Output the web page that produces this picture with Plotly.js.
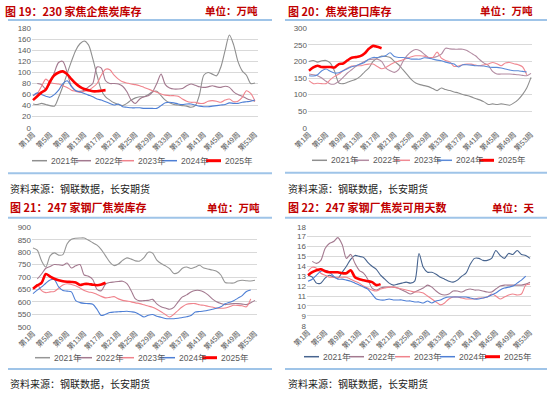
<!DOCTYPE html>
<html><head><meta charset="utf-8">
<script src="https://cdn.plot.ly/plotly-3.0.1.min.js"></script>
<style>html,body{margin:0;padding:0;background:#fff}#chart{width:550px;height:393px}</style>
</head><body><div id="chart"></div>
<script>
// ---------- DATA ----------
const weeks = [1,2,3,4,5,6,7,8,9,10,11,12,13,14,15,16,17,18,19,20,21,22,23,24,25,26,27,28,29,30,31,32,33,34,35,36,37,38,39,40,41,42,43,44,45,46,47,48,49,50,51,52,53];
const tickWeeks = [1,5,9,13,17,21,25,29,33,37,41,45,49,53];
const tickLabels = ['第1周','第5周','第9周','第13周','第17周','第21周','第25周','第29周','第33周','第37周','第41周','第45周','第49周','第53周'];
const years = ['2021年','2022年','2023年','2024年','2025年'];

const titles = ['图 19：230 家焦企焦炭库存','图 20：焦炭港口库存','图 21：247 家钢厂焦炭库存','图 22：247 家钢厂焦炭可用天数'];
const units = ['单位：万吨','单位：万吨','单位：万吨','单位：天'];
const sourceText = '资料来源：钢联数据，长安期货';

// 图19 230家焦企焦炭库存（万吨）
const p1_2021 = [43,42,44,42,40,39,55,75,98,120,140,152,157,150,125,95,68,56,50,45,42,40,44,50,54,56,56,60,65,66,58,50,45,42,41,40,39,37,40,60,95,100,97,94,110,140,168,150,120,103,95,80,81];
const p1_2022 = [null,80,78,70,80,100,118,120,100,75,67,66,68,74,80,110,108,85,80,80,79,75,65,50,44,52,56,58,65,80,97,78,72,70,70,71,76,79,77,74,73,74,76,74,73,75,73,65,60,57,53,50,48];
const p1_2023 = [58,62,75,88,82,80,79,76,73,68,66,64,66,68,73,80,95,106,105,95,88,83,81,79,78,76,73,70,67,64,61,59,58,58,57,52,48,46,46,44,44,48,49,48,46,50,52,47,48,55,67,62,48];
const p1_2024 = [58,63,60,57,55,60,68,80,85,75,67,65,62,59,56,52,50,47,44,41,43,38,37,36,36,36,35,35,35,35,40,45,46,45,43,42,43,43,41,39,38,38,39,40,41,42,45,44,44,46,47,48,50];
const p1_2025 = [50,57,64,69,84,95,100,102,97,88,80,74,70,68,66,66,67,68];

// 图20 焦炭港口库存（万吨）
const p2_2021 = [200,203,198,202,203,195,170,135,133,137,142,146,155,168,180,200,210,216,215,212,200,190,175,160,145,135,130,127,124,118,112,120,115,112,108,105,100,97,93,88,84,78,70,72,70,72,70,68,75,85,100,120,152];
const p2_2022 = [162,160,157,150,140,132,132,140,152,165,175,185,192,200,205,207,207,200,180,172,167,175,200,218,230,236,232,222,212,212,215,222,240,238,237,237,237,233,225,217,205,195,188,170,162,162,162,162,161,160,158,157,164];
const p2_2023 = [142,133,134,133,133,145,155,162,172,180,186,187,187,190,192,192,185,178,182,190,197,201,205,210,214,217,217,216,212,212,228,210,203,198,185,186,190,192,192,189,187,190,192,197,193,187,195,197,193,190,184,160,null];
const p2_2024 = [157,156,160,172,177,170,165,166,172,178,184,187,192,197,207,212,212,214,218,226,215,212,212,210,207,207,207,211,210,207,204,202,198,195,192,183,190,190,189,187,187,186,183,182,182,180,177,174,172,172,170,168,null];
const p2_2025 = [172,182,187,183,183,183,182,192,194,203,211,213,216,224,238,247,244,240];

// 图21 247家钢厂焦炭库存（万吨）
const p3_2021 = [817,808,765,740,785,797,788,790,834,852,856,857,857,848,838,828,810,785,760,746,752,767,777,772,765,764,778,800,796,768,754,745,734,714,718,735,740,734,740,747,736,732,728,723,708,678,676,676,684,687,685,684,687];
const p3_2022 = [null,692,712,735,742,750,749,747,756,736,745,750,708,703,690,650,645,672,678,680,682,683,673,645,612,604,605,606,610,592,580,575,570,578,600,620,628,640,646,646,640,628,612,600,593,589,591,593,593,591,589,596,606];
const p3_2023 = [650,670,645,637,640,642,655,668,673,670,665,656,646,640,637,630,622,616,618,621,612,606,603,600,596,593,588,583,578,570,560,549,539,550,566,580,590,593,593,588,586,582,579,575,574,575,580,586,586,584,580,612,null];
const p3_2024 = [633,647,660,675,688,690,660,646,643,640,605,597,594,593,590,570,545,550,557,559,560,561,562,560,557,548,539,546,549,542,538,533,532,532,534,537,540,545,559,561,563,566,570,574,580,592,598,604,615,625,642,648,null];
const p3_2025 = [653,666,676,712,702,693,687,683,681,680,678,668,672,672,669,667,670,677];

// 图22 247家钢厂焦炭可用天数（天）
const p4_2021 = [13.1,12.9,12.3,12.3,12.8,13.1,12.9,12.8,13.4,14.0,14.7,15.1,15.0,14.9,14.4,14.0,13.7,13.1,12.7,12.3,12.1,12.2,12.3,12.4,12.3,12.5,15.3,13.9,13.4,13.4,13.2,12.9,12.7,12.5,12.4,12.6,13.0,13.3,14.2,14.8,14.8,14.6,14.6,14.8,15.6,15.1,14.8,15.3,15.2,15.6,15.2,15.1,14.8];
const p4_2022 = [null,14.5,14.3,14.6,15.8,16.3,16.5,16.9,16.2,14.8,15.2,14.3,13.6,13.3,12.7,11.8,11.6,11.8,11.9,11.9,11.9,11.8,11.6,11.4,11.2,11.4,11.6,11.8,12.1,11.9,11.5,11.2,11.1,11.2,11.5,11.5,11.4,11.6,11.7,11.6,11.6,11.5,11.4,11.4,11.7,12.0,12.1,12.1,12.1,12.1,12.1,12.2,12.4];
const p4_2023 = [13.5,13.9,13.8,13.3,13.1,12.9,12.9,12.9,12.9,12.9,12.7,12.5,12.3,12.0,11.8,11.6,11.5,11.7,11.8,11.9,11.9,11.8,11.7,11.6,11.5,11.4,11.4,11.3,11.0,10.7,10.4,10.1,10.3,10.7,10.9,10.9,10.8,10.7,10.7,10.7,10.8,10.8,10.9,11.2,11.0,10.7,10.9,11.1,11.2,11.1,11.2,12.1,12.2];
const p4_2024 = [12.5,12.7,13.1,13.5,13.6,13.4,13.0,12.7,12.7,12.6,12.5,12.3,12.1,11.9,11.7,11.2,10.7,10.6,10.6,10.7,10.6,10.6,10.6,10.5,10.5,10.4,10.4,10.3,10.5,10.3,10.5,10.6,10.8,10.9,10.9,10.9,10.9,10.9,10.8,10.7,10.7,10.8,10.9,11.1,11.3,11.6,11.8,11.9,12.0,12.3,12.6,13.0,null];
const p4_2025 = [13.1,13.4,13.6,13.7,13.5,13.4,13.4,13.4,13.3,13.3,13.6,12.9,12.7,12.6,12.5,12.4,12.1,12.2];

// ---------- STYLE / LAYOUT ----------
const W = 550, H = 393;
const PX = p => p / W, PY = p => 1 - p / H;
const FONT = 'Liberation Sans, Noto Sans CJK SC, sans-serif';
const CJK = 'Noto Sans CJK SC, sans-serif';

const panels = [
  {series:[p1_2021,p1_2022,p1_2023,p1_2024,p1_2025], colors:['#8f8f8f','#a3798f','#f0838c','#4e7fd5','#ff0000'],
   left:32, right:258, w1:33, w53:255, top:28.3, bottom:127.7, yr:[0,180], dtick:20,
   tx:3, ty:11, ux:260, legY:160.7, legX:[50,94,137,180,224], sepTop:[8,272,20], sepBot:[8,272,173.3], srcX:8, srcY:188.3},
  {series:[p2_2021,p2_2022,p2_2023,p2_2024,p2_2025], colors:['#8f8f8f','#b38ca2','#f08a93','#5b8ad8','#ff0000'],
   left:308, right:532, w1:309, w53:531, top:28.3, bottom:127.7, yr:[0,300], dtick:50,
   tx:286, ty:11, ux:535, legY:160.3, legX:[330,372,413,455,497], sepTop:[285,547,20], sepBot:[285,547,172.7], srcX:286, srcY:188.3},
  {series:[p3_2021,p3_2022,p3_2023,p3_2024,p3_2025], colors:['#969696','#a3798f','#f0838c','#4e7fd5','#ff0000'],
   left:32, right:257, w1:33, w53:255, top:227.3, bottom:326.7, yr:[500,900], dtick:50,
   tx:8, ty:207.3, ux:262, legY:357.7, legX:[53,95,137,178,220], sepTop:[8,272,217.7], sepBot:[8,272,369], srcX:8, srcY:383.3},
  {series:[p4_2021,p4_2022,p4_2023,p4_2024,p4_2025], colors:['#47648f','#a3798f','#f0838c','#4e7fd5','#ff0000'],
   left:307, right:531, w1:308, w53:530, top:226.7, bottom:325.7, yr:[8,18], dtick:1,
   tx:286, ty:207.3, ux:537, legY:356.7, legX:[322,367,413,458,503], sepTop:[285,547,217.7], sepBot:[285,547,369], srcX:286, srcY:383.3}
];

const traces = [];
const layout = {
  width: W, height: H, margin:{l:0,r:0,t:0,b:0},
  paper_bgcolor:'#ffffff', plot_bgcolor:'rgba(0,0,0,0)',
  showlegend:false, font:{family:FONT, color:'#595959'},
  annotations:[], shapes:[]
};

panels.forEach((p, i) => {
  const n = i === 0 ? '' : String(i + 1);
  const ppw = (p.w53 - p.w1) / 52;
  layout['xaxis' + n] = {
    domain:[PX(p.left), PX(p.right)], anchor:'y' + n,
    range:[1 - (p.w1 - p.left) / ppw, 53 + (p.right - p.w53) / ppw],
    tickmode:'array', tickvals:tickWeeks, ticktext:tickLabels, tickangle:-45,
    tickfont:{size:7.5, color:'#595959', family:FONT},
    showgrid:false, zeroline:false, showline:false, ticks:'', fixedrange:true
  };
  layout['yaxis' + n] = {
    domain:[PY(p.bottom), PY(p.top)], anchor:'x' + n,
    range:p.yr, tick0:p.yr[0], dtick:p.dtick,
    tickfont:{size:8, color:'#595959', family:FONT},
    gridcolor:'#d9d9d9', gridwidth:1, zeroline:false, showline:false, ticks:'', fixedrange:true
  };
  p.series.forEach((ys, k) => {
    traces.push({
      x: weeks.slice(0, ys.length), y: ys, name: years[k],
      xaxis:'x' + n, yaxis:'y' + n, type:'scatter', mode:'lines',
      line:{color:p.colors[k], width: k === 4 ? 2.6 : 1.1, shape:'spline', smoothing:0.8},
      hoverinfo:'skip'
    });
    // legend entry
    const lx = p.legX[k];
    layout.shapes.push({type:'line', xref:'paper', yref:'paper',
      x0:PX(lx - 18), x1:PX(lx - 3), y0:PY(p.legY), y1:PY(p.legY),
      line:{color:p.colors[k], width: k === 4 ? 3 : 1.5}});
    layout.annotations.push({xref:'paper', yref:'paper', x:PX(lx - 1), y:PY(p.legY),
      xanchor:'left', yanchor:'middle', showarrow:false, text:years[k],
      font:{size:8.5, color:'#595959', family:FONT}});
  });
  // title & unit
  layout.annotations.push({xref:'paper', yref:'paper', x:PX(p.tx), y:PY(p.ty), xanchor:'left', yanchor:'middle',
    showarrow:false, text:'<b>' + titles[i] + '</b>', font:{size:11, color:'#c00000', family:CJK}});
  layout.annotations.push({xref:'paper', yref:'paper', x:PX(p.ux), y:PY(p.ty), xanchor:'right', yanchor:'middle',
    showarrow:false, text:'<b>' + units[i] + '</b>', font:{size:10.5, color:'#c00000', family:CJK}});
  // source
  layout.annotations.push({xref:'paper', yref:'paper', x:PX(p.srcX), y:PY(p.srcY), xanchor:'left', yanchor:'middle',
    showarrow:false, text:sourceText, font:{size:10, color:'#222222', family:CJK}});
  // separators
  [p.sepTop, p.sepBot].forEach(s => layout.shapes.push({type:'line', xref:'paper', yref:'paper',
    x0:PX(s[0]), x1:PX(s[1]), y0:PY(s[2]), y1:PY(s[2]), line:{color:'#9fc4e8', width:2}}));
});

Plotly.newPlot('chart', traces, layout, {staticPlot:true, displayModeBar:false});
</script></body></html>
